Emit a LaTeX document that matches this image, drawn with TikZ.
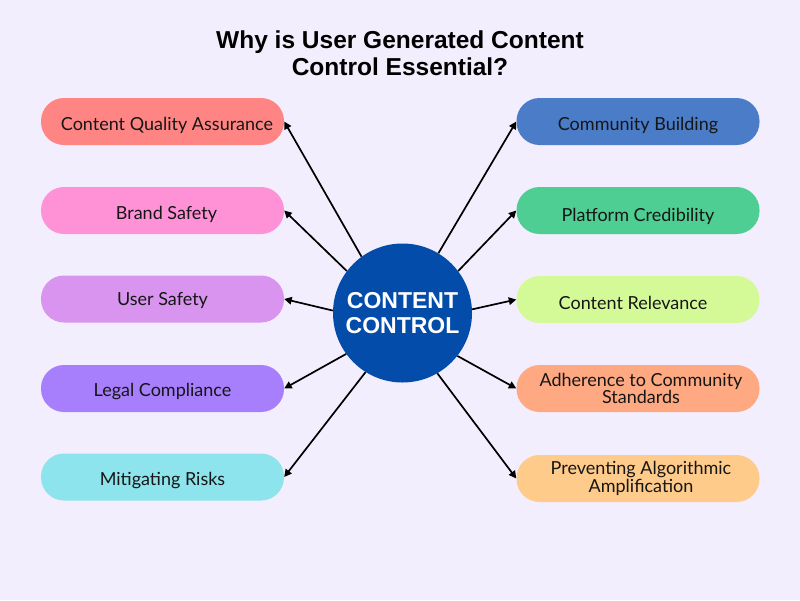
\documentclass[tikz,border=0pt]{standalone}
\usepackage{fontspec}
\setmainfont{Lato}
\newfontfamily\titlefont{Liberation Sans}
\usetikzlibrary{arrows.meta}
\definecolor{bgc}{HTML}{F3EEFD}
\definecolor{cq}{HTML}{FF8585}
\definecolor{bs}{HTML}{FF91D7}
\definecolor{us}{HTML}{D894EE}
\definecolor{lc}{HTML}{A77FFD}
\definecolor{mr}{HTML}{8DE4EC}
\definecolor{cb}{HTML}{4A7CC8}
\definecolor{pc}{HTML}{4ECE93}
\definecolor{cr}{HTML}{D4FA98}
\definecolor{ad}{HTML}{FFA982}
\definecolor{pa}{HTML}{FFCB8A}
\definecolor{hub}{HTML}{044CAA}
\definecolor{txt}{HTML}{161616}
\tikzset{
  pill/.style={draw=none, rounded corners=23pt, minimum width=243pt, minimum height=47pt, inner sep=0pt, align=center, font=\fontsize{18}{16.5}\selectfont, text=txt},
  one/.style={text height=#1, text depth=0pt},
  one/.default=17pt,
  arr/.style={line width=1.7pt, -{Triangle[length=7.5pt,width=7.5pt]}},
}
\begin{document}
\begin{tikzpicture}[x=1pt,y=-1pt]
\useasboundingbox (0,0) rectangle (800,600);
\fill[bgc] (0,0) rectangle (800,600);
\node[font=\titlefont\bfseries\fontsize{24.5}{27}\selectfont, align=center, text=black] (title) at (400,53) {Why is User Generated Content\\Control Essential?};
\node[circle, fill=hub, minimum size=139pt, inner sep=0pt, text=white, align=center, font=\titlefont\bfseries\fontsize{23}{25}\selectfont] (c) at (402.5,313) {CONTENT\\CONTROL};
% left pills
\node[pill, one, fill=cq] (cqa) at (162.5,121.5) {\hspace*{9pt}Content Quality Assurance};
\node[pill, one, fill=bs] (bsa) at (162.5,210.5) {\hspace*{8pt}Brand Safety};
\node[pill, one=13pt, fill=us] (usa) at (162.5,299) {User Safety};
\node[pill, one=16pt, fill=lc] (lca) at (162.5,388.5) {Legal Compliance};
\node[pill, one, fill=mr] (mra) at (162.5,477) {Mitigating Risks};
% right pills
\node[pill, one, fill=cb] (cba) at (638,121.5) {Community Building};
\node[pill, one=21pt, fill=pc] (pca) at (638,210.5) {Platform Credibility};
\node[pill, one=20pt, fill=cr] (cra) at (638,299.5) {Content Relevance\hspace*{10pt}};
\node[pill, fill=ad] (ada) at (638,388.5) {\hspace*{6pt}Adherence to Community\\\hspace*{6pt}Standards};
\node[pill, fill=pa] (paa) at (638,478.5) {\hspace*{6pt}Preventing Algorithmic\\\hspace*{6pt}Amplification};
% arrows
\draw[arr] (c.126) -- (cqa.east);
\draw[arr] (c.143.5) -- (bsa.east);
\draw[arr] (c.178) -- (usa.east);
\draw[arr] (c.216.5) -- (lca.east);
\draw[arr] (c.238) -- (mra.east);
\draw[arr] (c.59) -- (cba.west);
\draw[arr] (c.37) -- (pca.west);
\draw[arr] (c.3) -- (cra.west);
\draw[arr] (c.-38) -- (ada.west);
\draw[arr] (c.-60) -- (paa.west);
\end{tikzpicture}
\end{document}
